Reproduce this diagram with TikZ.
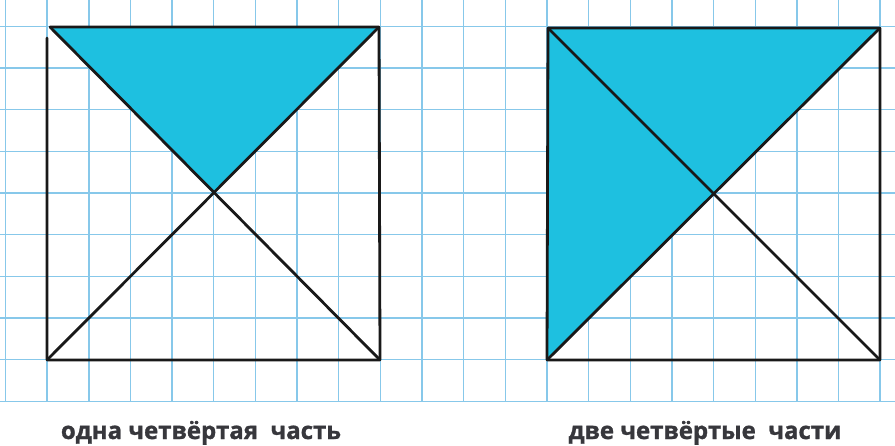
\documentclass[tikz,border=0pt]{standalone}
\usepackage{fontspec}
\setmainfont{Open Sans}[FakeBold=1.2]
\definecolor{gridc}{RGB}{135,200,234}
\definecolor{fillc}{RGB}{30,192,224}
\definecolor{inkc}{RGB}{25,25,25}
\definecolor{textc}{RGB}{55,55,60}
\tikzset{
  gridline/.style={draw=gridc, line width=1.4pt},
  edge/.style={draw=inkc, line width=2.8pt, line cap=round, line join=round},
  shade/.style={fill=fillc},
  caption/.style={text=textc, font=\fontsize{24}{28}\selectfont\bfseries, inner sep=0pt, anchor=base}
}
\begin{document}
\begin{tikzpicture}[x=1pt,y=-1pt]
\fill[white] (0,0) rectangle (895,446);
\useasboundingbox (0,0) rectangle (895,446);
% grid
\foreach \k in {0,...,21}{
  \draw[gridline] ({5.5+41.65*\k},0) -- ({5.5+41.65*\k},401);
}
\foreach \k in {0,...,9}{
  \draw[gridline] (0,{26.5+41.65*\k}) -- (895,{26.5+41.65*\k});
}
% left square
\coordinate (aTL) at (50,27);
\coordinate (aTR) at (379,27);
\coordinate (aBR) at (380,360);
\coordinate (aBL) at (47,360);
\coordinate (aC) at (213,193);
\coordinate (aLtop) at (47,38);
\fill[shade] (aTL) -- (aTR) -- (aC) -- cycle;
\draw[edge] (aTL) -- (aTR) -- (aBR) -- (aBL) -- (aLtop);
\draw[edge] (aTL) -- (aBR);
\draw[edge] (aTR) -- (aBL);
% right square
\coordinate (bTL) at (548,28);
\coordinate (bTR) at (880,28);
\coordinate (bBR) at (880,360);
\coordinate (bBL) at (547,360);
\coordinate (bC) at (714,194);
\fill[shade] (bTL) -- (bTR) -- (bC) -- (bBL) -- cycle;
\draw[edge] (bTL) -- (bTR) -- (bBR) -- (bBL) -- cycle;
\draw[edge] (bTL) -- (bBR);
\draw[edge] (bTR) -- (bBL);
% captions
\node[caption] (capA) at (201,439) {одна четвёртая\ \ часть};
\node[caption] (capB) at (705,439) {две четвёртые\ \ части};
\end{tikzpicture}
\end{document}
